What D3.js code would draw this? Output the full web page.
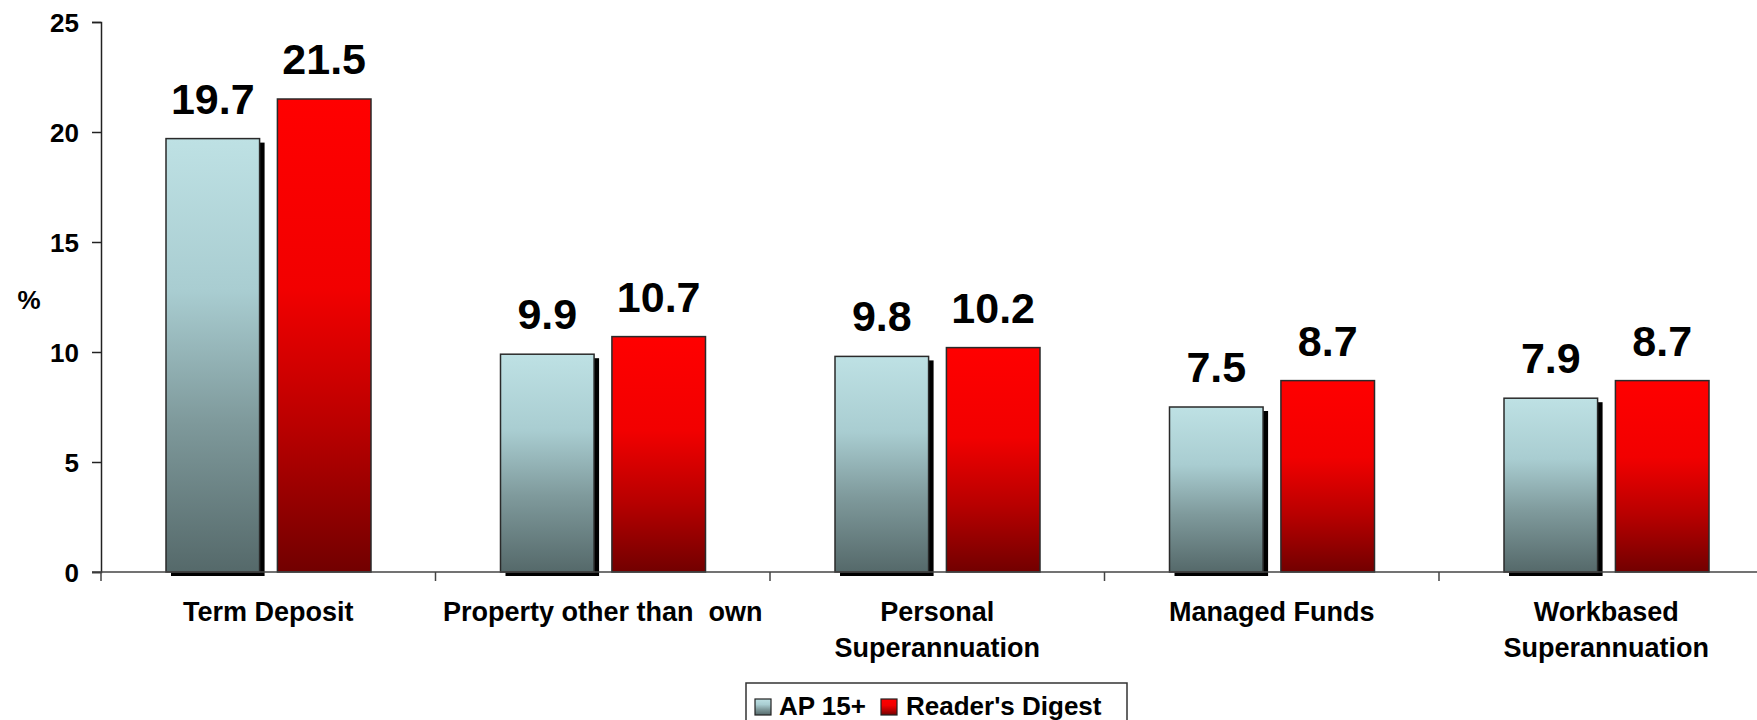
<!DOCTYPE html>
<html>
<head>
<meta charset="utf-8">
<script src="https://cdn.jsdelivr.net/npm/d3@7"></script>
<style>
  body { margin: 0; background: #fff; }
  svg { display: block; font-family: Arial, "Liberation Sans", sans-serif; font-weight: bold; }
</style>
</head>
<body>
<div id="chart"></div>
<script>
// Savings / investment products held - AP 15+ vs Reader's Digest readers (%)
const categories = ["Term Deposit", "Property other than  own", "Personal\nSuperannuation", "Managed Funds", "Workbased\nSuperannuation"];
const seriesNames = ["AP 15+", "Reader's Digest"];
const apValues = [19.7, 9.9, 9.8, 7.5, 7.9];
const rdValues = [21.5, 10.7, 10.2, 8.7, 8.7];
const yTicks = [0, 5, 10, 15, 20, 25];

const width = 1757, height = 720;

const svg = d3.select("#chart").append("svg")
    .attr("width", width)
    .attr("height", height);

// gradients for the two series
const defs = svg.append("defs");
const gradStops = {
    ap: [["0%", "#bee1e4"], ["35%", "#a9cdd1"], ["65%", "#7f9a9c"], ["100%", "#55696a"]],
    rd: [["0%", "#ff0000"], ["40%", "#f20000"], ["70%", "#b80000"], ["100%", "#720000"]]
};
Object.keys(gradStops).forEach(k => {
    const g = defs.append("linearGradient")
        .attr("id", "grad-" + k)
        .attr("x1", 0).attr("y1", 0).attr("x2", 0).attr("y2", 1);
    gradStops[k].forEach(s => g.append("stop").attr("offset", s[0]).attr("stop-color", s[1]));
});

const x = d3.scaleBand()
    .domain(categories)
    .range([101, 101 + 5 * 334.5])
    .padding(0);

const xInner = d3.scaleBand()
    .domain(seriesNames)
    .range([65, 270])
    .paddingInner(0.16)
    .paddingOuter(0);

const y = d3.scaleLinear()
    .domain([0, 25])
    .range([572, 22]);

// y axis
const yAxis = svg.append("g")
    .attr("transform", "translate(101,0)")
    .call(d3.axisLeft(y).tickValues(yTicks).tickSize(9).tickPadding(13));
yAxis.select(".domain").attr("stroke", "#222").attr("stroke-width", 1.5);
yAxis.selectAll(".tick line").attr("stroke", "#222").attr("stroke-width", 1.5);
yAxis.selectAll(".tick text")
    .attr("font-size", 26)
    .attr("font-family", "Arial, 'Liberation Sans', sans-serif")
    .attr("font-weight", "bold")
    .attr("fill", "#000")
    .attr("dy", "0.36em");

svg.append("text")
    .attr("x", 29).attr("y", 309)
    .attr("text-anchor", "middle")
    .attr("font-size", 26)
    .text("%");

// bars
const data = categories.map((c, i) => ({ cat: c, values: [
    { key: "ap", name: seriesNames[0], v: apValues[i] },
    { key: "rd", name: seriesNames[1], v: rdValues[i] }
]}));

const groups = svg.append("g").selectAll("g")
    .data(data)
    .join("g")
    .attr("transform", d => `translate(${x(d.cat)},0)`);

// shadow behind the AP bars
groups.selectAll("rect.shadow")
    .data(d => d.values.filter(v => v.key === "ap"))
    .join("rect")
    .attr("class", "shadow")
    .attr("x", d => xInner(d.name) + 5)
    .attr("y", d => y(d.v) + 4)
    .attr("width", xInner.bandwidth())
    .attr("height", d => y(0) - y(d.v))
    .attr("fill", "#000");

groups.selectAll("rect.bar")
    .data(d => d.values)
    .join("rect")
    .attr("class", "bar")
    .attr("x", d => xInner(d.name))
    .attr("y", d => y(d.v))
    .attr("width", xInner.bandwidth())
    .attr("height", d => y(0) - y(d.v))
    .attr("fill", d => `url(#grad-${d.key})`)
    .attr("stroke", "#2a2a2a")
    .attr("stroke-width", 1.5);

groups.selectAll("text.val")
    .data(d => d.values)
    .join("text")
    .attr("class", "val")
    .attr("x", d => xInner(d.name) + xInner.bandwidth() / 2)
    .attr("y", d => y(d.v) - 25)
    .attr("text-anchor", "middle")
    .attr("font-size", 43)
    .attr("fill", "#000")
    .text(d => d3.format(".1f")(d.v));

// x axis
const xAxis = svg.append("g")
    .attr("transform", `translate(0,${y(0)})`);
xAxis.append("line")
    .attr("x1", 92).attr("x2", width)
    .attr("stroke", "#444").attr("stroke-width", 1.5);
xAxis.selectAll("line.tk")
    .data(categories.concat(["end"]))
    .join("line")
    .attr("class", "tk")
    .attr("x1", (d, i) => x.range()[0] + i * x.step())
    .attr("x2", (d, i) => x.range()[0] + i * x.step())
    .attr("y1", 0).attr("y2", 9)
    .attr("stroke", "#444").attr("stroke-width", 1.5);

const catLabels = svg.append("g").selectAll("text")
    .data(categories)
    .join("text")
    .attr("x", d => x(d) + x.bandwidth() / 2)
    .attr("y", 621)
    .attr("text-anchor", "middle")
    .attr("font-size", 27)
    .attr("fill", "#000")
    .style("white-space", "pre");
catLabels.selectAll("tspan")
    .data(d => d.split("\n"))
    .join("tspan")
    .attr("x", function () { return d3.select(this.parentNode).attr("x"); })
    .attr("dy", (d, i) => i === 0 ? 0 : 36)
    .text(d => d);

// legend
const legend = svg.append("g");
legend.append("rect")
    .attr("x", 746).attr("y", 683)
    .attr("width", 381).attr("height", 60)
    .attr("fill", "#fff")
    .attr("stroke", "#333").attr("stroke-width", 1.5);

const legendItems = [
    { key: "ap", name: seriesNames[0], sx: 755, tx: 779 },
    { key: "rd", name: seriesNames[1], sx: 881, tx: 906 }
];
legend.selectAll("rect.sw")
    .data(legendItems)
    .join("rect")
    .attr("class", "sw")
    .attr("x", d => d.sx).attr("y", 699)
    .attr("width", 16).attr("height", 16)
    .attr("fill", d => `url(#grad-${d.key})`)
    .attr("stroke", "#222").attr("stroke-width", 1.2);
legend.selectAll("text")
    .data(legendItems)
    .join("text")
    .attr("x", d => d.tx).attr("y", 715)
    .attr("font-size", 26)
    .attr("fill", "#000")
    .text(d => d.name);
</script>
</body>
</html>
